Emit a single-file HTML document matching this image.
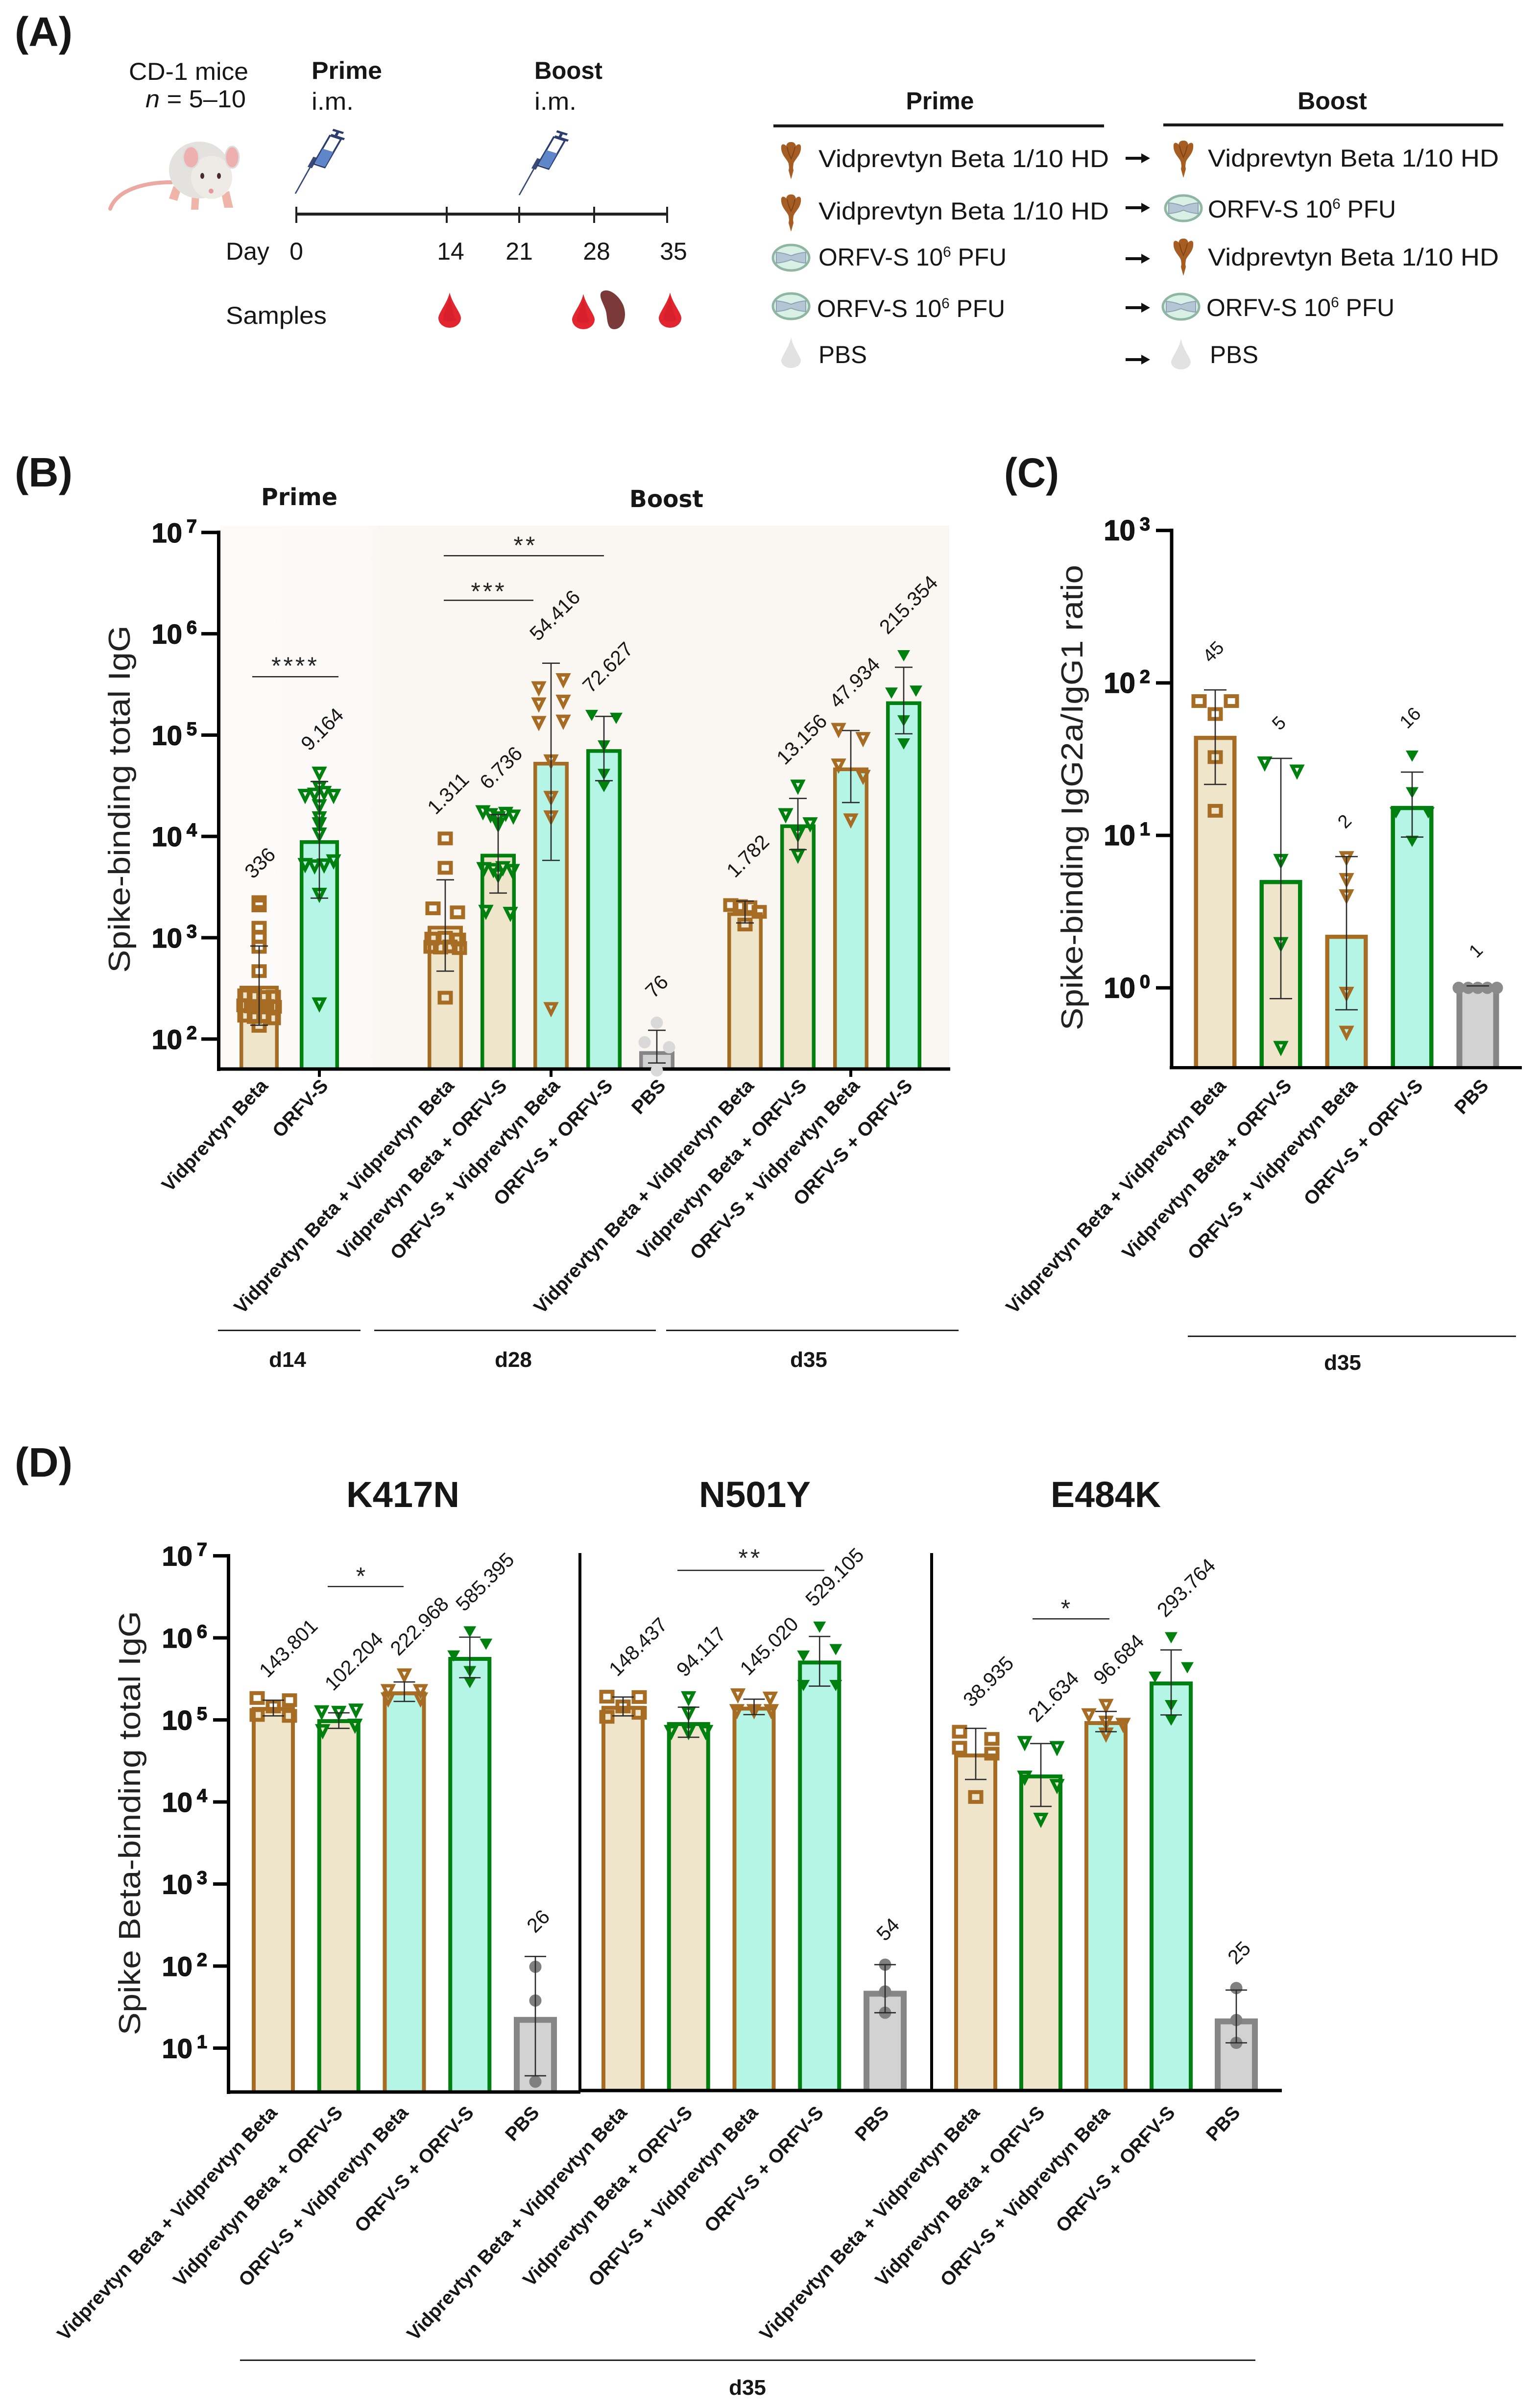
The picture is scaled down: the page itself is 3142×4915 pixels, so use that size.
<!DOCTYPE html>
<html lang="en">
<head>
<meta charset="utf-8">
<title>Spike-binding antibody responses</title>
<style>
html,body{margin:0;padding:0;background:#fff}
svg{display:block}
text{font-family:"Liberation Sans",sans-serif;fill:#161616}
.t{font-size:50px}
.b{font-weight:bold}
.letter{font-size:84px;font-weight:bold}
.title{font-size:74px;font-weight:bold}
.sub{font-family:"DejaVu Sans","Liberation Sans",sans-serif;font-size:48px;font-weight:bold}
.ytitle{font-size:62px;fill:#222}
.grp{font-size:44px;font-weight:bold}
.star{font-size:50px;letter-spacing:5px;fill:#222}
</style>
</head>
<body>
<svg id="figure" xmlns="http://www.w3.org/2000/svg" width="3142" height="4915" viewBox="0 0 3142 4915">
<defs>
<linearGradient id="plotBg" x1="450" x2="1938" y1="0" y2="0" gradientUnits="userSpaceOnUse">
<stop offset="0" stop-color="#fcfbfa"/><stop offset="0.2" stop-color="#fbfaf8"/><stop offset="0.225" stop-color="#faf6f1"/><stop offset="1" stop-color="#faf6f1"/>
</linearGradient>
<g id="ico-vid"><path d="M-20,-30C-18,-36-12,-33-10,-30C-8,-38-3,-38 0,-38C3,-38 8,-38 10,-30C12,-33 18,-36 20,-30C22,-12 8,-4 5,6L4,14L5,20L0,38L-5,20L-4,14L-5,6C-8,-4-22,-12-20,-30Z" fill="#a55d24"/><path d="M-8,-28C-6,-18-3,-10 0,-4C3,-10 6,-18 8,-28" fill="none" stroke="#7d4315" stroke-width="2"/></g>
<g id="ico-orfv"><ellipse rx="37" ry="26" fill="#d9f0e6" stroke="#8fb5a3" stroke-width="5"/><path d="M-30,-11C-12,-9-6,-6 0,-4C6,-6 12,-9 30,-11L30,11C12,9 6,6 0,4C-6,6-12,9-30,11Z" fill="#b4c6d3" stroke="#8fa3b5" stroke-width="2"/></g>
<g id="ico-pbs"><path d="M0,-32C3,-12 20,8 20,16A20,15 0 1 1-20,16C-20,8-3,-12 0,-32Z" fill="#e2e2e2"/></g>
<g id="ico-arrow"><path d="M0,-3H32V-10L50,0L32,10V3H0Z" fill="#111"/></g>
<g id="ico-drop"><path d="M0,-36C5,-14 23,6 23,16A23,20 0 1 1-23,16C-23,6-5,-14 0,-36Z" fill="#e32530"/><path d="M0,-30C-3,-10-15,8-13,20C-6,24 6,24 13,20C8,10 3,-14 0,-30Z" fill="#d11e29" opacity=".6"/></g>
<g id="ico-syringe">
<path d="M0,130L33,52" stroke="#3a4a78" stroke-width="3" fill="none"/>
<path d="M30,58L42,30" stroke="#3a4a78" stroke-width="10" fill="none"/>
<path d="M38,48L72,-30L95,-20L61,58Z" fill="#fff" stroke="#2d3e6e" stroke-width="4"/>
<path d="M40,46L57,6L79,15L62,56Z" fill="#5f86c8"/>
<path d="M83,-26L89,-41M74,-32L102,-20M78,-46L100,-37" stroke="#2d3e6e" stroke-width="6" fill="none"/>
</g>
</defs>

<g>
<text class="letter" x="30" y="94" textLength="118" lengthAdjust="spacingAndGlyphs">(A)</text>
<text class="t" x="263" y="163" textLength="244" lengthAdjust="spacingAndGlyphs">CD-1 mice</text>
<text class="t" x="297" y="219" textLength="205" lengthAdjust="spacingAndGlyphs"><tspan font-style="italic">n</tspan> = 5–10</text>
<text class="t b" x="636" y="161" textLength="144" lengthAdjust="spacingAndGlyphs">Prime</text>
<text class="t" x="636" y="224" textLength="86" lengthAdjust="spacingAndGlyphs">i.m.</text>
<text class="t b" x="1091" y="161" textLength="139" lengthAdjust="spacingAndGlyphs">Boost</text>
<text class="t" x="1091" y="224" textLength="86" lengthAdjust="spacingAndGlyphs">i.m.</text>

<g>
<path d="M350,372C300,372 240,385 225,426" fill="none" stroke="#eaa9a2" stroke-width="8" stroke-linecap="round"/>
<path d="M354,380L345,405L362,410L370,385ZM392,395L390,428L405,428L407,395ZM452,395L458,424L476,424L468,390Z" fill="#eeb5a8"/>
<ellipse cx="407" cy="347" rx="62" ry="58" fill="#e4e2de"/>
<ellipse cx="432" cy="362" rx="42" ry="44" fill="#eeebe7"/>
<ellipse cx="390" cy="321" rx="16" ry="22" fill="#eeb0ae" stroke="#ddd" stroke-width="3"/>
<ellipse cx="474" cy="321" rx="14" ry="22" fill="#eeb0ae" stroke="#ddd" stroke-width="3"/>
<ellipse cx="413" cy="359" rx="4" ry="6" fill="#4a2b2b"/>
<ellipse cx="447" cy="359" rx="4" ry="6" fill="#4a2b2b"/>
<ellipse cx="431" cy="390" rx="5" ry="5" fill="#e59a9a"/>
</g>

<use href="#ico-syringe" transform="translate(603,299) scale(.98,.74)"/>
<use href="#ico-syringe" transform="translate(1060,302) scale(.98,.74)"/>

<g>
<rect x="605" y="434" width="757" height="6" fill="#222"/>
<rect x="603" y="422" width="4" height="33" fill="#222"/>
<rect x="910" y="422" width="4" height="33" fill="#222"/>
<rect x="1058" y="422" width="4" height="33" fill="#222"/>
<rect x="1211" y="422" width="4" height="33" fill="#222"/>
<rect x="1360" y="422" width="4" height="33" fill="#222"/>
</g>
<text class="t" x="461" y="530">Day</text>
<text class="t" x="605" y="530" text-anchor="middle">0</text>
<text class="t" x="920" y="530" text-anchor="middle">14</text>
<text class="t" x="1060" y="530" text-anchor="middle">21</text>
<text class="t" x="1218" y="530" text-anchor="middle">28</text>
<text class="t" x="1375" y="530" text-anchor="middle">35</text>
<text class="t" x="461" y="661" textLength="206" lengthAdjust="spacingAndGlyphs">Samples</text>
<use href="#ico-drop" x="918" y="633"/>
<use href="#ico-drop" x="1191" y="636"/>
<use href="#ico-drop" x="1368" y="633"/>
<path d="M1228,596C1240,586 1262,600 1272,622C1282,646 1272,672 1254,672C1240,672 1240,654 1238,640C1236,624 1220,606 1228,596Z" fill="#7b3a3a"/>

<text class="t b" x="1919" y="223" text-anchor="middle">Prime</text>
<text class="t b" x="2720" y="223" text-anchor="middle">Boost</text>
<rect x="1579" y="254" width="675" height="6" fill="#1a1a1a"/>
<rect x="2375" y="252" width="694" height="6" fill="#1a1a1a"/>

<use href="#ico-vid" x="1615" y="328"/>
<use href="#ico-vid" x="1615" y="435"/>
<use href="#ico-orfv" x="1615" y="526"/>
<use href="#ico-orfv" x="1615" y="625"/>
<use href="#ico-pbs" x="1615" y="720"/>
<text class="t" x="1671" y="341" textLength="593" lengthAdjust="spacingAndGlyphs">Vidprevtyn Beta 1/10 HD</text>
<text class="t" x="1671" y="448" textLength="593" lengthAdjust="spacingAndGlyphs">Vidprevtyn Beta 1/10 HD</text>
<text class="t" x="1671" y="542" textLength="384" lengthAdjust="spacingAndGlyphs">ORFV-S 10<tspan font-size="30" dy="-18">6</tspan><tspan dy="18"> PFU</tspan></text>
<text class="t" x="1668" y="647" textLength="384" lengthAdjust="spacingAndGlyphs">ORFV-S 10<tspan font-size="30" dy="-18">6</tspan><tspan dy="18"> PFU</tspan></text>
<text class="t" x="1671" y="741" textLength="99" lengthAdjust="spacingAndGlyphs">PBS</text>

<use href="#ico-arrow" x="2298" y="323"/>
<use href="#ico-arrow" x="2298" y="424"/>
<use href="#ico-arrow" x="2298" y="528"/>
<use href="#ico-arrow" x="2298" y="628"/>
<use href="#ico-arrow" x="2298" y="734"/>

<use href="#ico-vid" x="2416" y="325"/>
<use href="#ico-orfv" x="2416" y="425"/>
<use href="#ico-vid" x="2416" y="525"/>
<use href="#ico-orfv" x="2411" y="626"/>
<use href="#ico-pbs" x="2411" y="723"/>
<text class="t" x="2466" y="340" textLength="594" lengthAdjust="spacingAndGlyphs">Vidprevtyn Beta 1/10 HD</text>
<text class="t" x="2466" y="444" textLength="384" lengthAdjust="spacingAndGlyphs">ORFV-S 10<tspan font-size="30" dy="-18">6</tspan><tspan dy="18"> PFU</tspan></text>
<text class="t" x="2466" y="542" textLength="594" lengthAdjust="spacingAndGlyphs">Vidprevtyn Beta 1/10 HD</text>
<text class="t" x="2463" y="645" textLength="384" lengthAdjust="spacingAndGlyphs">ORFV-S 10<tspan font-size="30" dy="-18">6</tspan><tspan dy="18"> PFU</tspan></text>
<text class="t" x="2470" y="741" textLength="99" lengthAdjust="spacingAndGlyphs">PBS</text>
</g>

<g>
<text class="letter" x="30" y="993" textLength="118" lengthAdjust="spacingAndGlyphs">(B)</text>
<text class="letter" x="2050" y="994" textLength="112" lengthAdjust="spacingAndGlyphs">(C)</text>
<text class="letter" x="30" y="3014" textLength="118" lengthAdjust="spacingAndGlyphs">(D)</text>
</g>

<rect x="450" y="1073" width="1488" height="1106" fill="url(#plotBg)"/>
<text class="sub" x="533" y="1031" textLength="156" lengthAdjust="spacingAndGlyphs">Prime</text>
<text class="sub" x="1285" y="1035" textLength="151" lengthAdjust="spacingAndGlyphs">Boost</text>
<text class="ytitle" transform="translate(265,1631) rotate(-90)" text-anchor="middle" textLength="709" lengthAdjust="spacingAndGlyphs">Spike-binding total IgG</text>
<text class="ytitle" transform="translate(2210,1628) rotate(-90)" text-anchor="middle" textLength="950" lengthAdjust="spacingAndGlyphs">Spike-binding IgG2a/IgG1 ratio</text>
<text class="ytitle" transform="translate(286,3721) rotate(-90)" text-anchor="middle" textLength="866" lengthAdjust="spacingAndGlyphs">Spike Beta-binding total IgG</text>

<text class="title" x="707" y="3076" textLength="231" lengthAdjust="spacingAndGlyphs">K417N</text>
<text class="title" x="1427" y="3076" textLength="228" lengthAdjust="spacingAndGlyphs">N501Y</text>
<text class="title" x="2145" y="3076" textLength="225" lengthAdjust="spacingAndGlyphs">E484K</text>

<g>
<rect x="515" y="1380" width="176" height="2.5" fill="#222"/>
<text class="star" x="603" y="1376" text-anchor="middle">****</text>
<rect x="906" y="1224" width="183" height="2.5" fill="#222"/>
<text class="star" x="998" y="1224" text-anchor="middle">***</text>
<rect x="906" y="1133" width="327" height="2.5" fill="#222"/>
<text class="star" x="1073" y="1130" text-anchor="middle">**</text>
<rect x="669" y="3237" width="155" height="2.5" fill="#222"/>
<text class="star" x="739" y="3234" text-anchor="middle">*</text>
<rect x="1383" y="3204" width="300" height="2.5" fill="#222"/>
<text class="star" x="1532" y="3197" text-anchor="middle">**</text>
<rect x="2108" y="3303" width="157" height="2.5" fill="#222"/>
<text class="star" x="2178" y="3300" text-anchor="middle">*</text>
</g>

<g>
<rect x="445" y="2714" width="291" height="3" fill="#222"/>
<rect x="764" y="2714" width="575" height="3" fill="#222"/>
<rect x="1360" y="2714" width="597" height="3" fill="#222"/>
<text class="grp" x="587" y="2790" text-anchor="middle">d14</text>
<text class="grp" x="1048" y="2790" text-anchor="middle">d28</text>
<text class="grp" x="1651" y="2790" text-anchor="middle">d35</text>
<rect x="2425" y="2726" width="670" height="3" fill="#222"/>
<text class="grp" x="2741" y="2796" text-anchor="middle">d35</text>
<rect x="490" y="4816" width="2073" height="3" fill="#222"/>
<text class="grp" x="1526" y="4888" text-anchor="middle">d35</text>
</g>

<g id="chart-layer"></g>
</svg>

<script>
// ---------- Panel B data ----------
const categoriesB = ['Vidprevtyn Beta','ORFV-S','Vidprevtyn Beta + Vidprevtyn Beta','Vidprevtyn Beta + ORFV-S','ORFV-S + Vidprevtyn Beta','ORFV-S + ORFV-S','PBS','Vidprevtyn Beta + Vidprevtyn Beta','Vidprevtyn Beta + ORFV-S','ORFV-S + Vidprevtyn Beta','ORFV-S + ORFV-S'];
const valuesB = [336,9164,1311,6736,54416,72627,76,1782,13156,47934,215354];
const printedB = ['336','9.164','1.311','6.736','54.416','72.627','76','1.782','13.156','47.934','215.354'];
const upperB = [828,34800,3730,16400,512000,153000,122,2300,23700,111000,467000];
const lowerB = [137,2460,468,2760,5800,35500,58,1400,7400,21600,103000];
const pointsB = [
  [[2245],[2084],[1255],[1023],[813],[468],[270,265,260,262],[215,210,205,212,208],[170,165,168,160],[135]],
  [[41100],[29800],[24800,25500,26500,24800],[19600],[14900],[13000],[10300],[5150,5000,5100,5600],[2620],[217]],
  [[9550],[4900],[1950,1780],[980,1000,960],[813,800,820,790],[256]],
  [[17100,16000,14900,16500,15500],[12900],[4700,4600,4800,4500],[4070],[1780,1700]],
  [[286000,344000],[198000,211000],[130000,134000],[54300],[23700],[15200],[195]],
  [[157000,147000],[78500],[41100],[31200]],
  [[145],[93,83],[49]],
  [[2100,2050,2000,1800],[1350]],
  [[30600],[16000,13000],[10300],[6370]],
  [[111000,90200],[49400,38200],[14200]],
  [[610000],[261000,273000],[139000],[82200]]
];
const tickExponentsB = [2,3,4,5,6,7];
const bottomTicksB = ['ORFV-S','ORFV-S + Vidprevtyn Beta','ORFV-S + Vidprevtyn Beta'];

// ---------- Panel C data ----------
const categoriesC = ['Vidprevtyn Beta + Vidprevtyn Beta','Vidprevtyn Beta + ORFV-S','ORFV-S + Vidprevtyn Beta','ORFV-S + ORFV-S','PBS'];
const valuesC = [45,5.1,2.23,15.6,1.03];
const printedC = ['45','5','2','16','1'];
const upperC = [90,32,7.26,26,1.03];
const lowerC = [21.6,0.85,0.718,9.75,1.03];
const pointsC = [
  [[76,76],[62.5],[32.6],[14.5]],
  [[29.4,26],[6.74],[1.92],[0.40]],
  [[7.03],[5.05],[3.95],[0.906],[0.503]],
  [[33.2],[19.1],[14.1,14.1],[9.17]],
  [[1,1,1,1,1]]
];
const tickExponentsC = [0,1,2,3];

// ---------- Panel D data ----------
const categoriesD = ['Vidprevtyn Beta + Vidprevtyn Beta','Vidprevtyn Beta + ORFV-S','ORFV-S + Vidprevtyn Beta','ORFV-S + ORFV-S','PBS'];
const tickExponentsD = [1,2,3,4,5,6,7];

const valuesK = [143801,102204,222968,585395,24];
const printedK = ['143.801','102.204','222.968','585.395','26'];
const upperK = [174000,122000,290000,1020000,131];
const lowerK = [112000,78900,168000,327000,4.6];
const pointsK = [
  [[185000,174000],[146000],[115000,112000]],
  [[122000,120000,128000],[71800,83700]],
  [[343000],[221000,221000],[175000,175000]],
  [[1190000],[605000,841000],[390000],[287000]],
  [[98],[38],[3.9]]
];

const valuesN = [148437,94117,145020,529105,50];
const printedN = ['148.437','94.117','145.020','529.105','54'];
const upperN = [190000,143000,179000,1040000,104];
const lowerN = [112000,61500,116000,258000,27];
const pointsN = [
  [[192000,190000],[146000],[109000,122000]],
  [[181000],[118000],[70200,70200,70200]],
  [[196000,179000],[126000,126000,126000]],
  [[1360000],[603000,723000],[264000,264000]],
  [[104],[49],[27]]
];

const valuesE = [38935,21634,96684,293764,23];
const printedE = ['38.935','21.634','96.684','293.764','25'];
const upperE = [78900,51500,127000,713000,51];
const lowerE = [18800,8830,71800,115000,11.6];
const pointsE = [
  [[71800,58700],[45800,38800],[11500]],
  [[51500,44700],[19500,15400],[5970]],
  [[146000],[112000,91000,85700],[65300]],
  [[1010000],[334000,435000],[150000],[100000]],
  [[54],[22],[11.6]]
];

// ---------- Scales ----------
function logScale(topPx, topExp, decadePx){
  return function(v){ return topPx + (topExp - Math.log10(v)) * decadePx; };
}
const yB = logScale(1086.8, 7, 206.8);
const yC = logScale(1082.7, 3, 311.2);
const yD = logScale(3175.6, 7, 167.47);
function xB(i){ return i < 2 ? 529 + i * 123 : i < 7 ? 909 + (i - 2) * 108 : 1521 + (i - 7) * 108; }
function xC(i){ return 2481 + i * 134; }
function xK(i){ return 558 + i * 133.75; }
function xN(i){ return 1272 + i * 133.75; }
function xE(i){ return 1992 + i * 133; }

// ---------- Helpers ----------
const NS = 'http://www.w3.org/2000/svg';
const layer = document.getElementById('chart-layer');
const BROWN = '#a66c24', GREEN = '#00800f', GREY = '#868686';
const BEIGE = '#efe5cb', MINT = '#b5f5e5', LIGHTGREY = '#d2d2d2';

function mk(tag, props, parent){
  const el = document.createElementNS(NS, tag);
  for (const k in props) el.setAttribute(k, props[k]);
  (parent || layer).appendChild(el);
  return el;
}
function slug(s){ return s.toLowerCase().replace(/[^a-z0-9]+/g, '-').replace(/^-|-$/g, ''); }
function first(cat){ return cat.split(' + ')[0]; }
function last(cat){ const p = cat.split(' + '); return p[p.length - 1]; }
function fillOf(cat){ return cat === 'PBS' ? LIGHTGREY : first(cat).indexOf('ORFV') === 0 ? MINT : BEIGE; }
function strokeOf(cat){ return cat === 'PBS' ? GREY : last(cat).indexOf('ORFV') === 0 ? GREEN : BROWN; }
function markerOf(cat){
  if (cat === 'PBS') return 'circle';
  if (cat === 'ORFV-S + ORFV-S') return 'solid';
  if (cat === 'Vidprevtyn Beta' || cat === 'Vidprevtyn Beta + Vidprevtyn Beta') return 'square';
  return 'tri';
}

function drawBars(c){
  const g = mk('g', {}, layer);
  
  
  c.categories.forEach(function(cat, i){
    const sw = cat === 'PBS' ? c.pbsStroke : c.barStroke;
    const w = (c.barWidths ? c.barWidths(i) : c.barWidth) - sw;
    const top = c.y(c.values[i]) + sw / 2;
    const left = c.x(i) - w / 2, right = c.x(i) + w / 2;
    const bar = mk('path', {d: 'M' + left + ',' + c.base + 'V' + top + 'H' + right + 'V' + c.base, fill: fillOf(cat), stroke: strokeOf(cat), 'stroke-width': sw}, g);
    
    
  });
}

function drawYTicks(c){
  c.exponents.forEach(function(e){
    const yy = c.y(Math.pow(10, e));
    const tick = mk('rect', {x: c.tickX, y: yy - 3.5, width: c.axisX - c.tickX, height: 7, fill: '#000'});
    
    
    const t = mk('text', {x: c.tickX - c.labelGap, y: yy + 20, 'text-anchor': 'end', 'font-size': c.tickFont, 'font-weight': 'bold', fill: '#000', stroke: '#000', 'stroke-width': 1.2});
    
    
    t.textContent = '10';
    const s = mk('tspan', {dx: 9, dy: -20, 'font-size': 38}, t);
    s.textContent = String(e);
  });
}

function drawXLabels(c){
  c.categories.forEach(function(cat, i){
    const px = c.x(i) + c.xLabelDx, py = c.xLabelY;
    const t = mk('text', {transform: 'translate(' + px + ',' + py + ') rotate(-47)', 'text-anchor': 'end', 'font-size': 39, 'font-weight': 'bold', fill: '#111'});
    
    
    t.textContent = cat;
  });
}

function drawMarker(kind, color, px, py, g, dotColor){
  let m;
  if (kind === 'square') {
    m = mk('rect', {x: px - 11.5, y: py - 10, width: 23, height: 20, fill: 'none', stroke: color, 'stroke-width': 8}, g);
  } else if (kind === 'circle') {
    m = mk('circle', {cx: px, cy: py, r: 12.5, fill: dotColor}, g);
  } else if (kind === 'solid') {
    m = mk('polygon', {points: [px - 13, py - 11, px + 13, py - 11, px, py + 12].join(','), fill: color}, g);
  } else {
    m = mk('polygon', {points: [px - 10, py - 12, px + 10, py - 12, px, py + 8].join(','), fill: 'none', stroke: color, 'stroke-width': 7, 'stroke-linejoin': 'miter'}, g);
  }
  return m;
}

function drawMarks(c){
  c.categories.forEach(function(cat, i){
    const cx = c.x(i);
    const g = mk('g', {}, layer);
    
    
    const kind = markerOf(cat), color = strokeOf(cat);
    c.points[i].forEach(function(row){
      const n = row.length;
      const span = n > 1 ? c.spread + (n - 2) * 4 : 0;
      row.forEach(function(v, j){
        const px = n > 1 ? cx - span / 2 + span * j / (n - 1) : cx;
        const m = drawMarker(kind, color, px, c.y(v), g, c.dot);
        
        
      });
    });
    const up = c.y(c.upper[i]), lo = c.y(c.lower[i]);
    const eb = mk('path', {d: 'M' + cx + ',' + up + 'V' + lo + 'M' + (cx - c.cap) + ',' + up + 'H' + (cx + c.cap) + 'M' + (cx - c.cap) + ',' + lo + 'H' + (cx + c.cap), fill: 'none', stroke: '#2a2a2a', 'stroke-width': 2.6}, layer);
    
    

    let topVal = c.upper[i];
    c.points[i].forEach(function(row){ row.forEach(function(v){ if (v > topVal) topVal = v; }); });
    const str = c.printed[i];
    const L = str.length * 0.52 * 38;
    const lx = cx + str.length * c.labelSlope - 2;
    const ly = c.y(topVal) - 50 - 0.3 * L - c.labelLift;
    const t = mk('text', {transform: 'translate(' + lx + ',' + ly + ') rotate(-45)', 'text-anchor': 'middle', 'dominant-baseline': 'middle', 'font-size': c.valueFont, fill: '#333'});
    
    
    t.textContent = str;
  });
}

function line(name, x, y, w, h){
  const r = mk('rect', {x: x, y: y, width: w, height: h, fill: '#000'});
  
  
}

// ---------- Panel configs ----------
const chartB = {key:'panel-b', categories:categoriesB, values:valuesB, printed:printedB, upper:upperB, lower:lowerB, points:pointsB, x:xB, y:yB, base:2182,
  barWidth:72, barWidths:function(i){ return i < 2 ? 80 : 72; }, barStroke:7.5, pbsStroke:7.5, spread:50, cap:18, dot:'#d9d9d9', labelSlope:2, valueFont:41, labelLift:10,
  exponents:tickExponentsB, axisX:447, tickX:411, labelGap:9, tickFont:56, xLabelDx:20, xLabelY:2218};
const chartC = {key:'panel-c', categories:categoriesC, values:valuesC, printed:printedC, upper:upperC, lower:lowerC, points:pointsC, x:xC, y:yC, base:2179,
  barWidth:87, barStroke:8.5, pbsStroke:12, spread:66, cap:23, dot:'#8a8a8a', labelSlope:0, valueFont:38, labelLift:14,
  exponents:tickExponentsC, axisX:2392, tickX:2360, labelGap:12, tickFont:58, xLabelDx:24, xLabelY:2218};
const chartK = {key:'k417n', categories:categoriesD, values:valuesK, printed:printedK, upper:upperK, lower:lowerK, points:pointsK, x:xK, y:yD, base:4270,
  barWidth:88, barStroke:8, pbsStroke:12, spread:66, cap:22, dot:'#808080', labelSlope:5, valueFont:41, labelLift:8,
  exponents:tickExponentsD, axisX:467, tickX:435, labelGap:12, tickFont:56, xLabelDx:10, xLabelY:4314};
const chartN = {key:'n501y', categories:categoriesD, values:valuesN, printed:printedN, upper:upperN, lower:lowerN, points:pointsN, x:xN, y:yD, base:4267,
  barWidth:88, barStroke:8, pbsStroke:12, spread:66, cap:22, dot:'#808080', labelSlope:5, valueFont:41, labelLift:8, xLabelDx:10, xLabelY:4314};
const chartE = {key:'e484k', categories:categoriesD, values:valuesE, printed:printedE, upper:upperE, lower:lowerE, points:pointsE, x:xE, y:yD, base:4267,
  barWidth:88, barStroke:8, pbsStroke:12, spread:66, cap:22, dot:'#808080', labelSlope:5, valueFont:41, labelLift:8, xLabelDx:10, xLabelY:4314};

// ---------- Render ----------
[chartB, chartC, chartK, chartN, chartE].forEach(drawBars);

line('panel-b-y-axis', 443, 1083, 7, 1103);
line('panel-b-x-axis', 445, 2178.5, 1495, 7);
line('panel-c-y-axis', 2388.5, 1079, 7, 1103);
line('panel-c-x-axis', 2388, 2176, 719, 6.5);
line('k417n-y-axis', 463, 3172, 7, 1102);
line('k417n-x-axis', 465, 4266.5, 720, 7);
line('n501y-x-axis', 1185, 4263.5, 1432, 7);
line('n501y-divider', 1181, 3170, 6, 1097);
line('e484k-divider', 1899, 3170, 6, 1097);

['ORFV-S', 'ORFV-S + Vidprevtyn Beta', 'ORFV-S + Vidprevtyn Beta'].forEach(function(name, n){
  const idx = n === 0 ? categoriesB.indexOf(bottomTicksB[0]) : n === 1 ? categoriesB.indexOf(bottomTicksB[1]) : categoriesB.lastIndexOf(bottomTicksB[2]);
  const tickX = xB(idx);
  const r = mk('rect', {x: tickX - 3, y: 2184, width: 6, height: 14, fill: '#000'});
  
  
});

[chartB, chartC, chartK].forEach(drawYTicks);
[chartB, chartC, chartK, chartN, chartE].forEach(drawXLabels);
[chartB, chartC, chartK, chartN, chartE].forEach(drawMarks);
</script>
</body>
</html>
